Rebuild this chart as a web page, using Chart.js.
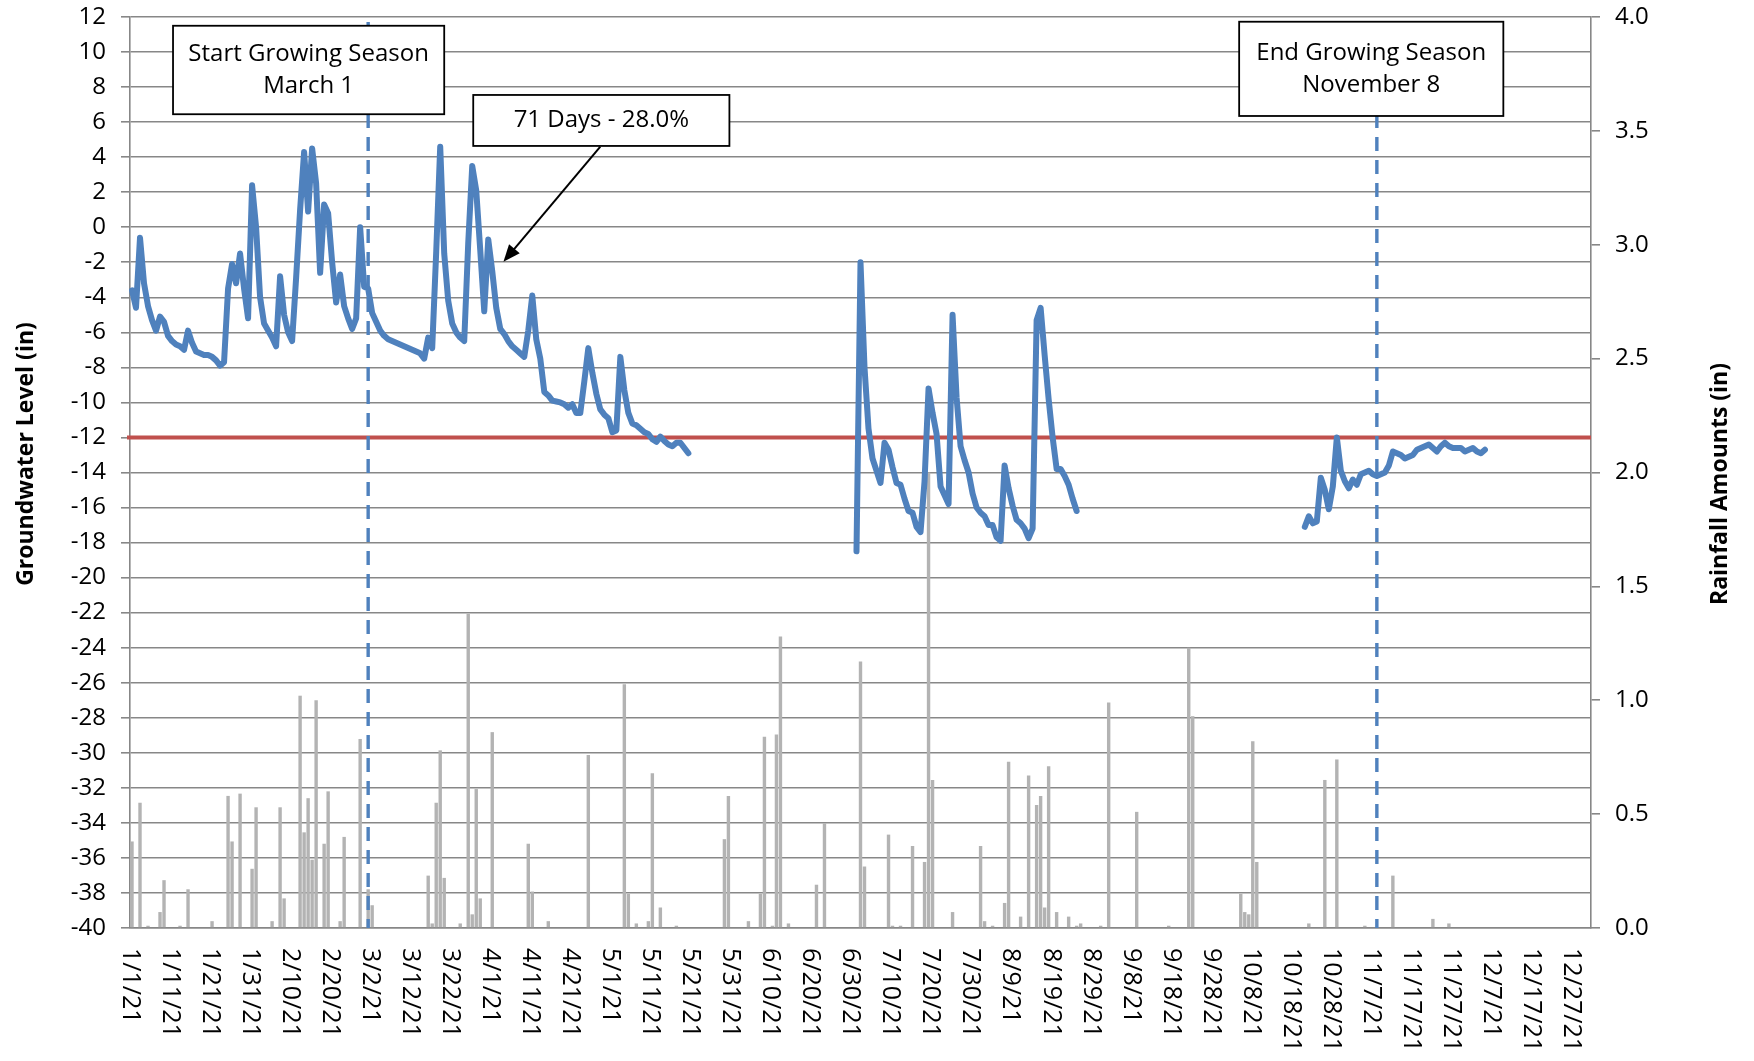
<!DOCTYPE html>
<html>
<head>
<meta charset="utf-8">
<script src="https://cdn.jsdelivr.net/npm/chart.js@4.4.0/dist/chart.umd.min.js"></script>
<style>
  html, body { margin: 0; padding: 0; background: #fff; }
  #wrap { width: 1754px; height: 1061px; }
</style>
</head>
<body>
<div id="wrap"><canvas id="c"></canvas></div>
<script>
// x tick labels, one every 10 days starting at day 0 (1/1/21)
const tickLabels = ['1/1/21','1/11/21','1/21/21','1/31/21','2/10/21','2/20/21','3/2/21','3/12/21',
  '3/22/21','4/1/21','4/11/21','4/21/21','5/1/21','5/11/21','5/21/21','5/31/21','6/10/21','6/20/21',
  '6/30/21','7/10/21','7/20/21','7/30/21','8/9/21','8/19/21','8/29/21','9/8/21','9/18/21','9/28/21',
  '10/8/21','10/18/21','10/28/21','11/7/21','11/17/21','11/27/21','12/7/21','12/17/21','12/27/21'];
const tickEvery = 10;

const gwStart1 = 0;
const gwSeg1 = [
  -3.6, -4.6, -0.6, -3.2, -4.5, -5.3, -5.9, -5.1, -5.4, -6.2,
  -6.5, -6.7, -6.8, -7.0, -5.9, -6.6, -7.1, -7.2, -7.3, -7.3,
  -7.4, -7.6, -7.9, -7.7, -3.5, -2.1, -3.2, -1.5, -3.5, -5.2,
  2.4, 0.0, -4.0, -5.5, -5.9, -6.3, -6.8, -2.8, -5.0, -6.0,
  -6.5, -2.9, 1.0, 4.3, 0.9, 4.5, 2.5, -2.6, 1.3, 0.8,
  -2.0, -4.3, -2.7, -4.5, -5.2, -5.8, -5.2, 0.0, -3.4, -3.5,
  -4.9, -5.4, -5.9, -6.2, -6.4, -6.5, -6.6, -6.7, -6.8, -6.9,
  -7.0, -7.1, -7.2, -7.5, -6.3, -6.9, -1.4, 4.6, -1.5, -4.2,
  -5.5, -6.0, -6.3, -6.5, -0.9, 3.5, 2.1, -1.3, -4.8, -0.7,
  -2.5, -4.6, -5.8, -6.1, -6.5, -6.8, -7.0, -7.2, -7.4, -5.9,
  -3.9, -6.4, -7.5, -9.4, -9.6, -9.9, -9.95, -10.0, -10.1, -10.3,
  -10.1, -10.6, -10.6, -8.8, -6.9, -8.3, -9.5, -10.4, -10.7, -10.9,
  -11.7, -11.6, -7.4, -9.3, -10.6, -11.2, -11.3, -11.5, -11.7, -11.8,
  -12.1, -12.25, -11.95, -12.2, -12.4, -12.5, -12.3, -12.3, -12.6, -12.9
];
const gwStart2 = 181;
const gwSeg2 = [
  -18.5, -2.0, -8.0, -11.5, -13.2, -13.9, -14.6, -12.3, -12.7, -13.7,
  -14.6, -14.7, -15.5, -16.2, -16.3, -17.1, -17.4, -14.5, -9.2, -10.6,
  -11.8, -14.8, -15.3, -15.8, -5.0, -9.7, -12.5, -13.3, -14.0, -15.2,
  -16.0, -16.3, -16.5, -17.0, -17.0, -17.7, -17.9, -13.6, -14.9, -15.9,
  -16.7, -16.9, -17.2, -17.75, -17.2, -5.3, -4.6, -7.3, -9.8, -12.0,
  -13.8, -13.8, -14.2, -14.7, -15.5, -16.2
];
const gwStart3 = 293;
const gwSeg3 = [
  -17.1, -16.5, -16.9, -16.8, -14.3, -15.0, -16.1, -14.8, -12.0, -13.9,
  -14.5, -14.9, -14.4, -14.7, -14.1, -14.0, -13.9, -14.1, -14.2, -14.1,
  -14.0, -13.6, -12.8, -12.9, -13.0, -13.2, -13.1, -13.0, -12.7, -12.6,
  -12.5, -12.4, -12.6, -12.8, -12.5, -12.3, -12.5, -12.6, -12.6, -12.6,
  -12.8, -12.7, -12.6, -12.8, -12.9, -12.7
];

// rainfall (in): [day index, amount], days not listed had none
const rainDays = [
  [0,0.38],[2,0.55],[4,0.01],[7,0.07],[8,0.21],[12,0.01],[14,0.17],[20,0.03],[24,0.58],[25,0.38],
  [27,0.59],[30,0.26],[31,0.53],[35,0.03],[37,0.53],[38,0.13],[42,1.02],[43,0.42],[44,0.57],[45,0.30],
  [46,1.00],[48,0.37],[49,0.60],[52,0.03],[53,0.40],[57,0.83],[59,0.17],[60,0.10],[74,0.23],[75,0.02],
  [76,0.55],[77,0.78],[78,0.22],[82,0.02],[84,1.38],[85,0.06],[86,0.61],[87,0.13],[90,0.86],[99,0.37],
  [100,0.16],[104,0.03],[114,0.76],[123,1.07],[124,0.15],[126,0.02],[129,0.03],[130,0.68],[132,0.09],
  [136,0.01],[148,0.39],[149,0.58],[154,0.03],[157,0.15],[158,0.84],[160,0.01],[161,0.85],[162,1.28],
  [164,0.02],[171,0.19],[173,0.46],[182,1.17],[183,0.27],[189,0.41],[190,0.01],[192,0.01],[195,0.36],
  [198,0.29],[199,2.00],[200,0.65],[205,0.07],[212,0.36],[213,0.03],[215,0.01],[218,0.11],[219,0.73],
  [222,0.05],[224,0.67],[226,0.54],[227,0.58],[228,0.09],[229,0.71],[231,0.07],[234,0.05],[236,0.01],
  [237,0.02],[242,0.01],[244,0.99],[251,0.51],[259,0.01],[264,1.23],[265,0.93],[277,0.15],[278,0.07],
  [279,0.06],[280,0.82],[281,0.29],[294,0.02],[298,0.65],[301,0.74],[308,0.01],[315,0.23],[325,0.04],
  [329,0.02]
];

const THRESHOLD = -12;       // red line
const seasonStart = 59;      // March 1
const seasonEnd = 311;       // November 8
const dayCount = 365;

const days = Array.from({ length: dayCount }, (_, i) => i);
const groundwater = days.map(() => null);
[[gwStart1, gwSeg1], [gwStart2, gwSeg2], [gwStart3, gwSeg3]].forEach(([s, seg]) => {
  seg.forEach((v, k) => { groundwater[s + k] = v; });
});
const rainfall = days.map(() => 0);
rainDays.forEach(([d, v]) => { rainfall[d] = v; });

const FONT = "'Open Sans', 'DejaVu Sans', sans-serif";
const GRID = '#878787';

// annotation boxes in data units (x: day, y: groundwater in)
const boxes = [
  { lines: ['Start Growing Season', 'March 1'], x0: 10.75, x1: 78.5, y0: 11.5, y1: 6.45 },
  { lines: ['71 Days - 28.0%'], x0: 85.75, x1: 149.75, y0: 7.55, y1: 4.64 },
  { lines: ['End Growing Season', 'November 8'], x0: 277.1, x1: 343.1, y0: 11.73, y1: 6.35 }
];
const arrow = { fromX: 117.5, fromY: 4.6, toX: 93.3, toY: -1.97 };

const overlay = {
  id: 'overlay',
  beforeDatasetsDraw(chart) {
    const { ctx, chartArea: a, scales: { y } } = chart;
    const py = y.getPixelForValue(THRESHOLD);
    ctx.save();
    ctx.strokeStyle = '#C0504D';
    ctx.lineWidth = 4;
    ctx.beginPath();
    ctx.moveTo(a.left - 3, py);
    ctx.lineTo(a.right, py);
    ctx.stroke();
    ctx.restore();
  },
  afterDatasetsDraw(chart) {
    const { ctx, chartArea: a, scales: { x } } = chart;
    ctx.save();
    ctx.strokeStyle = '#4F81BD';
    ctx.lineWidth = 3.4;
    ctx.setLineDash([14, 9]);
    [seasonStart, seasonEnd].forEach(d => {
      const px = x.getPixelForValue(d);
      ctx.beginPath();
      ctx.moveTo(px, a.top + 5);
      ctx.lineTo(px, a.bottom);
      ctx.stroke();
    });
    ctx.restore();
  },
  afterDraw(chart) {
    const { ctx, chartArea: a, scales: { x, y } } = chart;
    const half = (x.getPixelForValue(1) - x.getPixelForValue(0)) / 2;
    const dx = d => x.getPixelForValue(0) - half + d * half * 2;

    ctx.save();
    // x labels, rotated to read top-down like the original
    ctx.fillStyle = '#000';
    ctx.font = `25px ${FONT}`;
    ctx.textAlign = 'left';
    ctx.textBaseline = 'middle';
    tickLabels.forEach((t, i) => {
      ctx.save();
      ctx.translate(dx(i * tickEvery), a.bottom + 20);
      ctx.rotate(Math.PI / 2);
      ctx.fillText(t, 0, 0);
      ctx.restore();
    });

    // axis titles
    ctx.font = `bold 23px ${FONT}`;
    ctx.textAlign = 'center';
    [['Groundwater Level (in)', 26, 454], ['Rainfall Amounts (in)', 1720, 484]].forEach(([t, tx, ty]) => {
      ctx.save();
      ctx.translate(tx, ty);
      ctx.rotate(-Math.PI / 2);
      ctx.fillText(t, 0, 0);
      ctx.restore();
    });

    // arrow
    const ax0 = dx(arrow.fromX), ay0 = y.getPixelForValue(arrow.fromY);
    const ax1 = dx(arrow.toX), ay1 = y.getPixelForValue(arrow.toY);
    const ang = Math.atan2(ay1 - ay0, ax1 - ax0);
    ctx.strokeStyle = '#000';
    ctx.lineWidth = 2;
    ctx.beginPath();
    ctx.moveTo(ax0, ay0);
    ctx.lineTo(ax1 - 12 * Math.cos(ang), ay1 - 12 * Math.sin(ang));
    ctx.stroke();
    ctx.beginPath();
    ctx.moveTo(ax1, ay1);
    ctx.lineTo(ax1 - 17 * Math.cos(ang) + 7 * Math.sin(ang), ay1 - 17 * Math.sin(ang) - 7 * Math.cos(ang));
    ctx.lineTo(ax1 - 17 * Math.cos(ang) - 7 * Math.sin(ang), ay1 - 17 * Math.sin(ang) + 7 * Math.cos(ang));
    ctx.closePath();
    ctx.fillStyle = '#000';
    ctx.fill();

    // text boxes
    ctx.font = `24px ${FONT}`;
    ctx.textBaseline = 'middle';
    boxes.forEach(b => {
      const l = dx(b.x0), r = dx(b.x1), t = y.getPixelForValue(b.y0), btm = y.getPixelForValue(b.y1);
      ctx.fillStyle = '#fff';
      ctx.fillRect(l, t, r - l, btm - t);
      ctx.strokeStyle = '#000';
      ctx.lineWidth = 1.8;
      ctx.strokeRect(l, t, r - l, btm - t);
      ctx.fillStyle = '#000';
      const cy = (t + btm) / 2, gap = 32;
      b.lines.forEach((ln, i) => {
        ctx.fillText(ln, (l + r) / 2, cy + (i - (b.lines.length - 1) / 2) * gap);
      });
    });
    ctx.restore();
  }
};

const noPad = s => { s.paddingTop = 0; s.paddingBottom = 0; };

new Chart(document.getElementById('c'), {
  data: {
    labels: days,
    datasets: [
      {
        type: 'line',
        label: 'Groundwater',
        data: groundwater,
        yAxisID: 'y',
        borderColor: '#4F81BD',
        borderWidth: 6,
        pointRadius: 0,
        tension: 0,
        spanGaps: false,
        borderJoinStyle: 'round',
        borderCapStyle: 'round',
        order: 0
      },
      {
        type: 'bar',
        label: 'Rainfall',
        data: rainfall,
        yAxisID: 'y2',
        backgroundColor: '#B3B3B3',
        barPercentage: 0.85,
        categoryPercentage: 1.0,
        order: 1
      }
    ]
  },
  options: {
    responsive: true,
    maintainAspectRatio: false,
    animation: false,
    layout: { padding: { top: 17, left: 0, right: 0, bottom: 0 } },
    plugins: { legend: { display: false }, tooltip: { enabled: false } },
    scales: {
      x: {
        type: 'category',
        offset: true,
        grid: { display: false },
        border: { display: true, color: GRID, width: 1.6 },
        ticks: { display: false },
        afterFit: s => { s.height = 133; }
      },
      y: {
        position: 'left',
        min: -40, max: 12,
        ticks: { stepSize: 2, color: '#000', font: { family: FONT, size: 24 }, padding: 15 },
        grid: { color: GRID, lineWidth: 1.6, tickLength: 9 },
        border: { color: GRID, width: 1.6 },
        afterFit: s => { s.width = 130; noPad(s); }
      },
      y2: {
        position: 'right',
        min: 0, max: 4,
        ticks: { stepSize: 0.5, color: '#000', font: { family: FONT, size: 24 }, padding: 15,
                 callback: v => v.toFixed(1) },
        grid: { drawOnChartArea: false, color: GRID, lineWidth: 1.6, tickLength: 9 },
        border: { color: GRID, width: 1.6 },
        afterFit: s => { s.width = 163; noPad(s); }
      }
    }
  },
  plugins: [overlay]
});
</script>
</body>
</html>
